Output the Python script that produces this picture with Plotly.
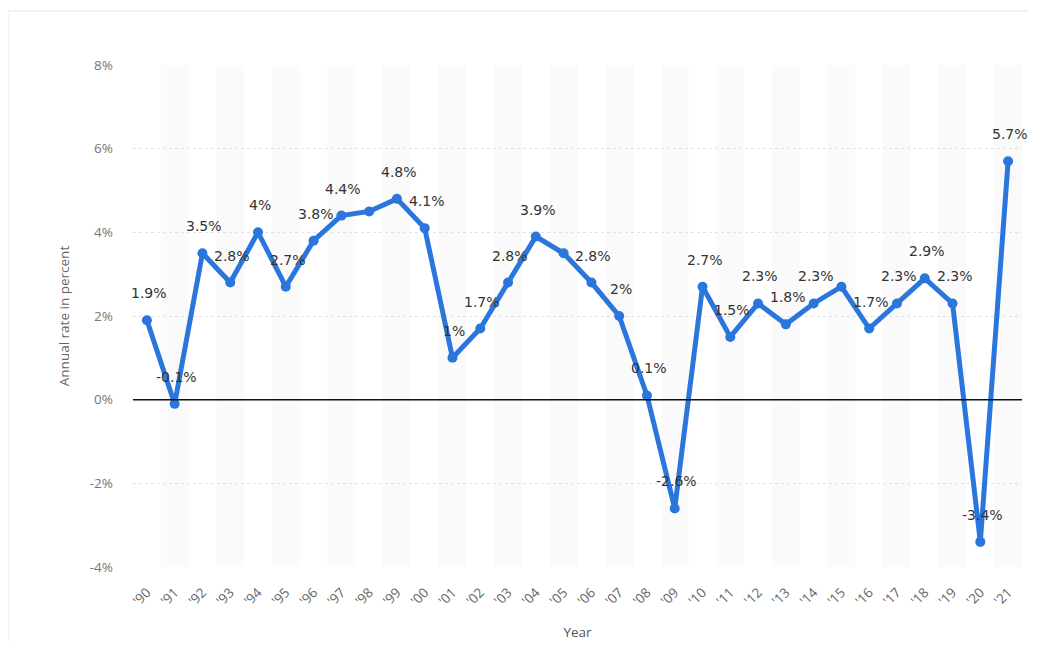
import plotly.graph_objects as go

years = list(range(1990, 2022))
tick_labels = ["'" + str(y)[2:] for y in years]
rates = [1.9, -0.1, 3.5, 2.8, 4.0, 2.7, 3.8, 4.4, 4.5, 4.8, 4.1, 1.0, 1.7, 2.8, 3.9, 3.5,
         2.8, 2.0, 0.1, -2.6, 2.7, 1.5, 2.3, 1.8, 2.3, 2.7, 1.7, 2.3, 2.9, 2.3, -3.4, 5.7]
labels = ["1.9%", "-0.1%", "3.5%", "2.8%", "4%", "2.7%", "3.8%", "4.4%", "", "4.8%", "4.1%",
          "1%", "1.7%", "2.8%", "3.9%", "", "2.8%", "2%", "0.1%", "-2.6%", "2.7%", "1.5%",
          "2.3%", "1.8%", "2.3%", "", "1.7%", "2.3%", "2.9%", "2.3%", "-3.4%", "5.7%"]
y_ticks = [-4, -2, 0, 2, 4, 6, 8]
y_tick_text = [f"{v}%" for v in y_ticks]

fig = go.Figure()

fig.add_trace(go.Scatter(
    x=years, y=rates, mode="lines+markers",
    line=dict(color="#2a76dc", width=5),
    marker=dict(color="#2a76dc", size=10),
    hoverinfo="skip", showlegend=False,
))

shapes = []
for i, yr in enumerate(years):
    if i % 2 == 1:
        shapes.append(dict(type="rect", xref="x", yref="paper", x0=yr - 0.5, x1=yr + 0.5,
                           y0=0, y1=1, fillcolor="#fafafa", line=dict(width=0), layer="below"))
shapes.append(dict(type="line", xref="paper", yref="y", x0=0, x1=1, y0=0, y1=0,
                   line=dict(color="#111111", width=1.5), layer="above"))
shapes.append(dict(type="rect", xref="paper", yref="paper", x0=-0.1406, x1=1.009,
                   y0=-0.2, y1=1.108, line=dict(color="#eeeeee", width=1.5)))

annotations = []
for yr, v, t in zip(years, rates, labels):
    if t:
        annotations.append(dict(x=yr, y=v, text=t, showarrow=False, xshift=2, yshift=27,
                                font=dict(family="DejaVu Sans", size=14, color="#333333")))

fig.update_layout(
    width=1021, height=633,
    margin=dict(l=125, r=7, t=57, b=74),
    plot_bgcolor="white", paper_bgcolor="white",
    shapes=shapes, annotations=annotations,
    xaxis=dict(range=[1989.5, 2021.5], tickmode="array", tickvals=years, ticktext=tick_labels,
               tickangle=-45, showgrid=False, zeroline=False, showline=False, automargin=False,
               ticks="", ticklabelstandoff=14,
               tickfont=dict(family="Open Sans", size=13.5, color="#666666"),
               title=dict(text="Year", font=dict(family="Open Sans", size=13.5, color="#555555"), standoff=25)),
    yaxis=dict(range=[-4, 8], tickmode="array", tickvals=y_ticks, ticktext=y_tick_text,
               showgrid=True, gridcolor="#e2e2e2", griddash="dot", zeroline=False, showline=False,
               automargin=False, ticks="", ticklabelstandoff=19,
               tickfont=dict(family="Open Sans", size=13.5, color="#777777"),
               title=dict(text="Annual rate in percent", font=dict(family="Open Sans", size=13.5, color="#666666"), standoff=17)),
)

fig.write_html("out.html")
